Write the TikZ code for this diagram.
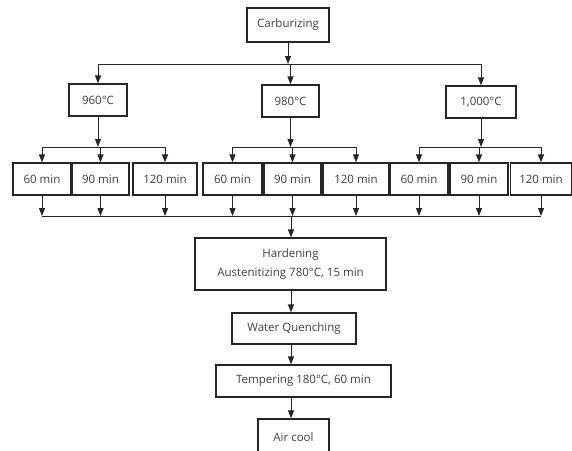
\documentclass[tikz,border=0pt]{standalone}
\usepackage{fontspec}
\setmainfont{Open Sans}
\usetikzlibrary{arrows.meta}
\tikzset{
  box/.style={draw=black!85, line width=1.2pt, minimum height=32pt, inner sep=0pt,
    text=black!75, font=\fontsize{11.5}{13}\selectfont},
  arr/.style={draw=black!85, line width=1pt, -{Triangle[width=6pt,length=8pt]}},
  link/.style={draw=black!85, line width=1pt},
}
\begin{document}
\begin{tikzpicture}[x=1pt,y=-1pt]
		\useasboundingbox (0,0) rectangle (572,450);
		\clip (0,0) rectangle (572,450);
		% Carburizing
		\node[box, minimum width=82pt, minimum height=34pt] (carb) at (288,25) {Carburizing};
		% Temperatures
		\node[box, minimum width=58pt] (t960) at (98,100) {960°C};
		\node[box, minimum width=57pt] (t980) at (290.5,101) {980°C};
		\node[box, minimum width=70pt] (t1000) at (481,102) {1,000°C};
		% Times
		\node[box, minimum width=58pt] (a60) at (42,179) {60 min};
		\node[box, minimum width=57pt] (a90) at (100.5,179) {90 min};
		\node[box, minimum width=64pt] (a120) at (165,179) {120 min};
		\node[box, minimum width=59pt] (b60) at (232.5,179) {60 min};
		\node[box, minimum width=57pt] (b90) at (292.5,179) {90 min};
		\node[box, minimum width=66pt] (b120) at (356,179) {120 min};
		\node[box, minimum width=58pt] (c60) at (419,179) {60 min};
		\node[box, minimum width=58pt] (c90) at (479,179) {90 min};
		\node[box, minimum width=61pt] (c120) at (541,179) {120 min};
		% Heat treatment
		\node[box, minimum width=191pt, minimum height=52pt, align=center] (hard) at (290.5,264)
			{Hardening\\[6pt]Austenitizing 780°C, 15 min};
		\node[box, minimum width=124pt, minimum height=31pt] (water) at (294,328.5) {Water Quenching};
		\node[box, minimum width=175pt] (temp) at (303.5,381) {Tempering 180°C, 60 min};
		\node[box, minimum width=71pt, minimum height=36pt] (air) at (293.5,437) {Air cool};
		% Split to temperatures
		\coordinate (top) at (carb.south |- 0,64);
		\draw[arr] (carb.south) -- (top);
		\draw[link] (t960.north |- top) -- (t1000.north |- top);
		\foreach \t in {t960,t980,t1000}
			\draw[arr] (\t.north |- top) -- (\t.north);
		% Split to times and merge
		\coordinate (merge) at (291,216);
		\foreach \t/\a/\b/\c in {t960/a60/a90/a120, t980/b60/b90/b120, t1000/c60/c90/c120}{
			\coordinate (j\t) at (\t.south |- 0,147);
			\draw[arr] (\t.south) -- (j\t);
			\draw[link] (\a.north |- j\t) -- (\c.north |- j\t);
			\foreach \m in {\a,\b,\c}{
				\draw[arr] (\m.north |- j\t) -- (\m.north);
				\draw[arr] (\m.south) -- (\m.south |- merge);
			}
		}
		\draw[link] (a60.south |- merge) -- (c120.south |- merge);
		\draw[arr] (merge) -- (merge |- hard.north);
		% Hardening to air cool
		\draw[arr] (merge |- hard.south) -- (merge |- water.north);
		\draw[arr] (merge |- water.south) -- (merge |- temp.north);
		\draw[arr] (merge |- temp.south) -- (merge |- air.north);
\end{tikzpicture}
\end{document}
